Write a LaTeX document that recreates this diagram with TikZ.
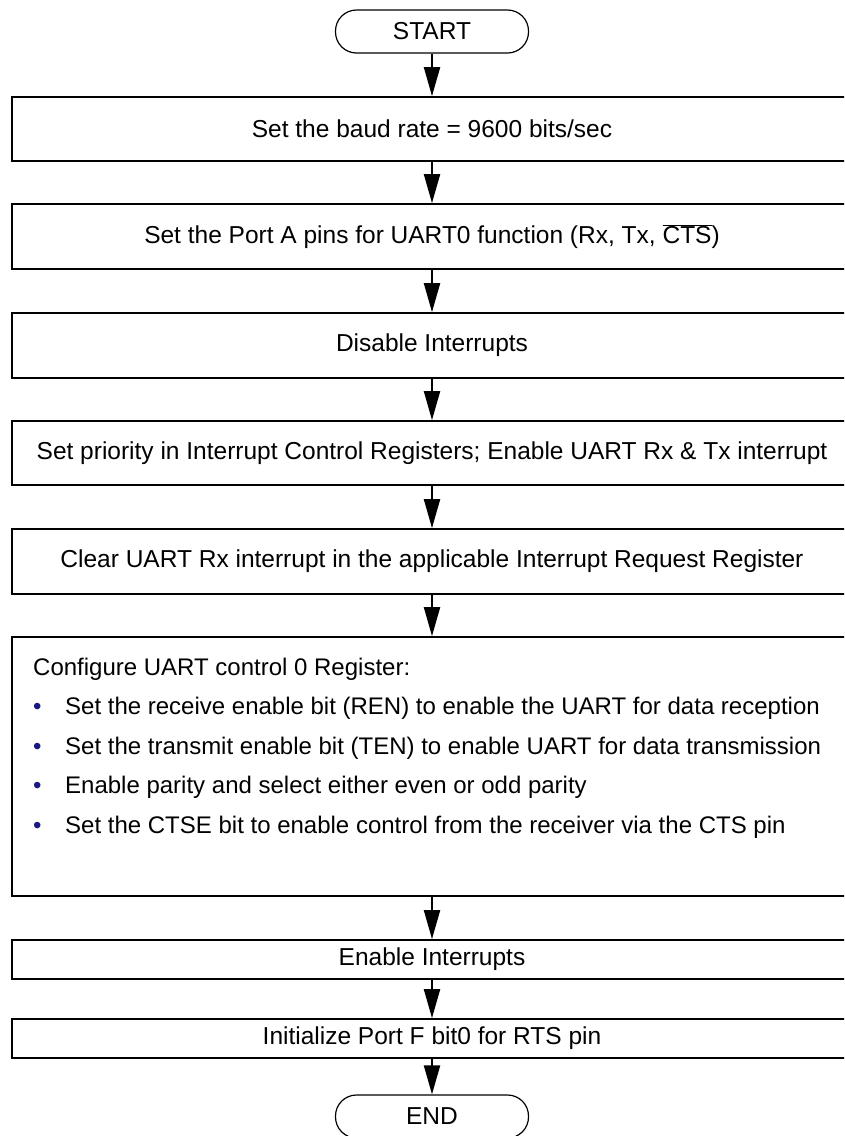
\documentclass[tikz,border=0pt]{standalone}
\usepackage{fontspec}
\setmainfont{Liberation Sans}
\usetikzlibrary{arrows.meta,positioning}

\definecolor{bulletblue}{RGB}{24,24,128}
\newcommand{\blt}{\makebox[32pt][l]{\textcolor{bulletblue}{•}}}

\tikzset{
  box/.style={draw, line width=1.7pt, minimum width=840pt, inner sep=0pt},
  term/.style={draw, line width=1.2pt, rounded corners=21pt, minimum width=193pt, minimum height=43pt, inner sep=0pt},
  line/.style={anchor=base west, inner sep=0pt, font=\fontsize{24}{30}\selectfont},
  flow/.style={line width=2pt, -{Triangle[length=29pt,width=16pt]}},
}

\begin{document}
\begin{tikzpicture}[x=1pt,y=-1pt,font=\fontsize{24.5}{30}\selectfont]
  \clip (0,0) rectangle (844,1136);

  % terminals and process boxes, top to bottom
  \node[term] (start) at (432,31.5) {START};
  \node[box, minimum height=64pt] (baud) at (432,129) {Set the baud rate = 9600 bits/sec};
  \node[box, minimum height=65pt] (pins) at (432,236.5) {Set the Port A pins for UART0 function (Rx, Tx, $\overline{\mbox{CTS}}$)};
  \node[box, minimum height=65pt] (dis) at (432,345.5) {Disable Interrupts};
  \node[box, minimum height=64pt] (prio) at (432,453) {Set priority in Interrupt Control Registers; Enable UART Rx \& Tx interrupt};
  \node[box, minimum height=65pt] (clr) at (432,561.5) {Clear UART Rx interrupt in the applicable Interrupt Request Register};
  \node[box, minimum height=259pt] (cfg) at (432,766.5) {};
  \node[box, minimum height=39pt] (en) at (432,959.5) {Enable Interrupts};
  \node[box, minimum height=39pt] (rts) at (432,1038.5) {Initialize Port F bit0 for RTS pin};
  \node[term] (end) at (432,1116.5) {END};

  % text of the configuration box
  \node[line] (cfghead) at (33,675) {Configure UART control 0 Register:};
  \node[line] (ren) at (33,714.5) {\blt Set the receive enable bit (REN) to enable the UART for data reception};
  \node[line] (ten) at (33,754) {\blt Set the transmit enable bit (TEN) to enable UART for data transmission};
  \node[line] (par) at (33,793.5) {\blt Enable parity and select either even or odd parity};
  \node[line] (ctse) at (33,833) {\blt Set the CTSE bit to enable control from the receiver via the CTS pin};

  % flow arrows
  \draw[flow] (start.south) -- (baud.north);
  \draw[flow] (baud.south) -- (pins.north);
  \draw[flow] (pins.south) -- (dis.north);
  \draw[flow] (dis.south) -- (prio.north);
  \draw[flow] (prio.south) -- (clr.north);
  \draw[flow] (clr.south) -- (cfg.north);
  \draw[flow] (cfg.south) -- (en.north);
  \draw[flow] (en.south) -- (rts.north);
  \draw[flow] (rts.south) -- (end.north);
\end{tikzpicture}
\end{document}
